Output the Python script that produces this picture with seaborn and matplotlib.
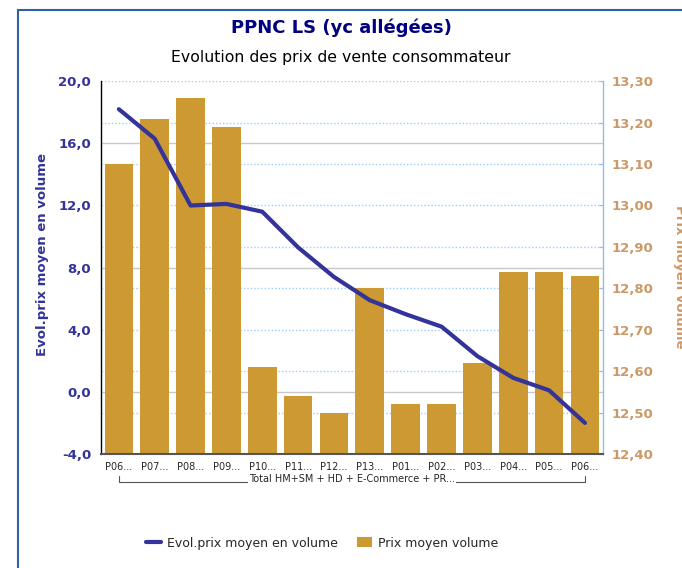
import numpy as np
import pandas as pd
import matplotlib.pyplot as plt
import seaborn as sns
from matplotlib.lines import Line2D
from matplotlib.patches import Patch, Rectangle
from matplotlib.ticker import FixedLocator, FuncFormatter
import matplotlib.transforms as mtransforms

# Data
periods = ['P06...', 'P07...', 'P08...', 'P09...', 'P10...', 'P11...', 'P12...',
           'P13...', 'P01...', 'P02...', 'P03...', 'P04...', 'P05...', 'P06...']
prix_moyen = [13.10, 13.21, 13.26, 13.19, 12.61, 12.54, 12.50,
              12.80, 12.52, 12.52, 12.62, 12.84, 12.84, 12.83]
evol_prix = [18.2, 16.3, 12.0, 12.1, 11.6, 9.3, 7.4,
             5.9, 5.0, 4.2, 2.3, 0.9, 0.1, -2.0]
group_label = 'Total HM+SM + HD + E-Commerce + PR...'

left_ticks = [-4, 0, 4, 8, 12, 16, 20]
right_ticks = [12.4, 12.5, 12.6, 12.7, 12.8, 12.9, 13.0, 13.1, 13.2, 13.3]

BAR = '#CC9933'
LINE = '#333399'
RIGHT_TXT = '#CC9966'

sns.set_style('white')
plt.rcParams['font.family'] = ['DejaVu Sans']

df = pd.DataFrame({'pos': np.arange(len(periods)), 'prix': prix_moyen, 'evol': evol_prix})

fig = plt.figure(figsize=(6.82, 5.68), dpi=100)
ax = fig.add_axes([0.148, 0.2007, 0.736, 0.6563])

# bars (right scale) on the bottom axes so the line sits on top
sns.barplot(data=df, x='pos', y='prix', color=BAR, saturation=1, width=0.8,
            linewidth=0, ax=ax)
ax.set_ylim(12.4, 13.3)

# line (left scale)
ax2 = ax.twinx()
sns.lineplot(data=df, x='pos', y='evol', color=LINE, linewidth=3, ax=ax2)
ax2.set_ylim(-4, 20)

# twinx moves the original ticks to the left, so swap them afterwards
ax.yaxis.tick_right()
ax2.yaxis.tick_left()

ax.set_yticks(right_ticks)
ax.yaxis.set_major_formatter(FuncFormatter(lambda v, _: f'{v:.2f}'.replace('.', ',')))
ax.tick_params(axis='y', which='major', colors='#99BBDD', labelcolor=RIGHT_TXT,
               labelsize=9.5, length=3, direction='in', pad=6)
for t in ax.get_yticklabels():
    t.set_fontweight('bold')

# grid: dotted at right ticks, solid at left ticks
to_right = lambda v: 12.4 + (v + 4) * 0.9 / 24
ax.yaxis.set_minor_locator(FixedLocator([to_right(v) for v in left_ticks]))
ax.tick_params(axis='y', which='minor', length=0)
ax.grid(axis='y', which='major', color='#99CCFF', linestyle=(0, (1, 1.5)), linewidth=1)
ax.grid(axis='y', which='minor', color='#C8C8C8', linestyle='-', linewidth=1)
ax.set_axisbelow(True)

ax.set_xticks(np.arange(len(periods)))
ax.set_xticklabels(periods, fontsize=7)
ax.tick_params(axis='x', length=0, pad=6)
ax.set_xlabel('')
ax.set_ylabel('')
ax.set_xlim(-0.5, len(periods) - 0.5)

ax.spines['top'].set_visible(False)
ax.spines['left'].set_color('black')
ax.spines['left'].set_linewidth(1)
ax.spines['bottom'].set_color('#555555')
ax.spines['bottom'].set_linewidth(1.5)
ax.spines['right'].set_color('#99BBDD')
ax.spines['right'].set_linewidth(1)

ax2.set_yticks(left_ticks)
ax2.yaxis.set_major_formatter(FuncFormatter(lambda v, _: f'{v:.1f}'.replace('.', ',')))
ax2.tick_params(axis='y', length=0, labelcolor=LINE, labelsize=9.5, pad=7)
for t in ax2.get_yticklabels():
    t.set_fontweight('bold')
ax2.set_ylabel('')
ax2.set_xlabel('')
for s in ax2.spines.values():
    s.set_visible(False)

# category bracket under the tick labels
trans = mtransforms.blended_transform_factory(ax.transData, ax.transAxes)
ax.plot([0, 0, len(periods) - 1, len(periods) - 1], [-0.058, -0.074, -0.074, -0.058],
        color='#555555', linewidth=0.8, transform=trans, clip_on=False)
ax.text((len(periods) - 1) / 2, -0.066, group_label, transform=trans, ha='center',
        va='center', fontsize=7, bbox=dict(facecolor='white', edgecolor='none', pad=1))

# titles and axis labels
fig.text(0.5, 0.951, 'PPNC LS (yc allégées)', ha='center', va='center',
         fontsize=13, fontweight='bold', color='#000080')
fig.text(0.5, 0.899, 'Evolution des prix de vente consommateur', ha='center',
         va='center', fontsize=11.3, color='black')
fig.text(0.062, 1 - 255 / 568, 'Evol.prix moyen en volume', rotation=90, ha='center',
         va='center', fontsize=9.5, fontweight='bold', color=LINE)
fig.text(0.997, 1 - 277 / 568, 'Prix moyen volume', rotation=270, ha='center',
         va='center', fontsize=9.5, fontweight='bold', color=RIGHT_TXT)

# legend
handles = [Line2D([0], [0], color=LINE, linewidth=3),
           Patch(facecolor=BAR, edgecolor='none')]
fig.legend(handles, ['Evol.prix moyen en volume', 'Prix moyen volume'], loc='center',
           bbox_to_anchor=(0.472, 1 - 543 / 568), ncol=2, frameon=False, fontsize=9,
           handlelength=1.2, handleheight=0.9, columnspacing=1.5, handletextpad=0.5)

# outer frame (cut off on the right and bottom)
fig.patches.append(Rectangle((18 / 682, -0.1), 1.2, 1.1 - 10 / 568, fill=False,
                             edgecolor='#2E5FA8', linewidth=1.5,
                             transform=fig.transFigure, figure=fig))

fig.savefig('out.png', dpi=100)
